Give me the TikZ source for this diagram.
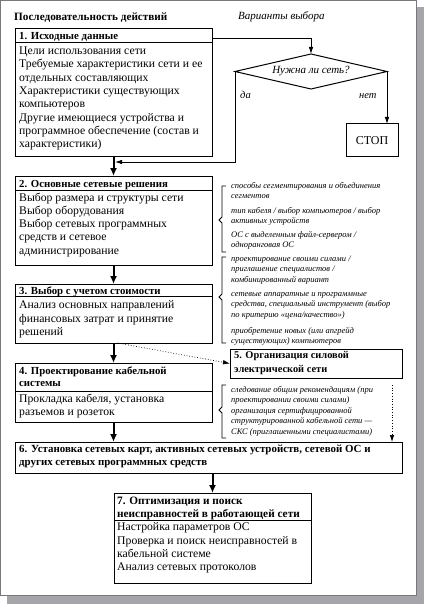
\documentclass[tikz,border=0pt]{standalone}
\usepackage{fontspec}
\setmainfont{Liberation Serif}
\usetikzlibrary{arrows.meta, positioning, shapes.geometric}

\definecolor{shadowgray}{RGB}{166,166,170}
\definecolor{edgegray}{RGB}{120,120,124}

\tikzset{
    frame/.style={draw, line width=1pt, inner sep=0pt, outer sep=0pt, anchor=north west},
    textblock/.style={align=left, anchor=north west, inner sep=0pt, execute at begin node=\strut},
    headtext/.style={textblock, font=\fontsize{10.8}{12.5}\selectfont\bfseries},
    bodytext/.style={textblock, font=\fontsize{11.7}{13.3}\selectfont},
    note/.style={textblock, font=\fontsize{8.5}{10.3}\selectfont\itshape},
    flow/.style={line width=2pt, -{Latex[length=8pt,width=7pt]}},
    link/.style={line width=0.8pt, -{Latex[length=7pt,width=4.5pt]}},
    option/.style={line width=0.7pt, dotted, -{Latex[length=7pt,width=4.5pt]}},
    divider/.style={line width=0.8pt}
}

\begin{document}
\begin{tikzpicture}[x=1pt, y=-1pt]
    \useasboundingbox (0,0) rectangle (424,604);
    % page with its shadow
    \fill[shadowgray] (7,7) rectangle (424,604);
    \filldraw[fill=white, draw=edgegray, line width=0.8pt] (0,0) rectangle (416,595);

    % column titles
    \node[headtext, font=\fontsize{11.2}{12.5}\selectfont\bfseries] (title) at (14,11.25) {Последовательность действий};
    \node[anchor=base west, inner sep=0pt, font=\fontsize{11}{13}\selectfont\itshape] (choices) at (238,20) {Варианты выбора};

    % 1
    \node[frame, minimum width=197pt, minimum height=128pt] (b1) at (15,29) {};
    \node[headtext] (h1) at (19,30.25) {1. Исходные данные};
    \draw[divider] (15,42) -- (212,42);
    \node[bodytext] (t1) at (19,46.7) {Цели использования сети\\
        Требуемые характеристики сети и ее\\
        отдельных составляющих\\
        Характеристики существующих\\
        компьютеров\\
        Другие имеющиеся устройства и\\
        программное обеспечение (состав и\\
        характеристики)};

    % decision
    \node[draw, line width=1pt, diamond, inner sep=0pt, outer sep=0pt, shape aspect=4.3,
        minimum width=152pt, minimum height=35pt,
        font=\fontsize{11}{13}\selectfont\itshape] (need) at (311,71.5) {Нужна ли сеть?};
    \node[frame, anchor=center, minimum width=52pt, minimum height=33pt,
        font=\fontsize{12}{14}\selectfont] (stop) at (372,140.5) {СТОП};
    \node[anchor=base west, inner sep=0pt, font=\fontsize{10.5}{12}\selectfont\itshape] (yes) at (240,99) {да};
    \node[anchor=base west, inner sep=0pt, font=\fontsize{10.5}{12}\selectfont\itshape] (no) at (359,99) {нет};
    \coordinate (join) at (115,162);

    % 2
    \node[frame, minimum width=197pt, minimum height=89pt] (b2) at (15,176) {};
    \node[headtext] (h2) at (19,178.25) {2. Основные сетевые решения};
    \draw[divider] (15,190.7) -- (212,190.7);
    \node[bodytext] (t2) at (19,192.5) {Выбор размера и структуры сети\\
        Выбор оборудования\\
        Выбор сетевых программных\\
        средств и сетевое\\
        администрирование};

    % 3
    \node[frame, minimum width=197pt, minimum height=59pt] (b3) at (15,284) {};
    \node[headtext] (h3) at (19,285.25) {3. Выбор с учетом стоимости};
    \draw[divider] (15,296.7) -- (212,296.7);
    \node[bodytext] (t3) at (19,300.5) {Анализ основных направлений\\
        финансовых затрат и принятие\\
        решений};

    % 4
    \node[frame, minimum width=197pt, minimum height=59pt] (b4) at (15,363) {};
    \node[headtext, font=\fontsize{10.8}{12}\selectfont\bfseries] (h4) at (19,366.6) {4. Проектирование кабельной\\системы};
    \draw[divider] (15,391) -- (212,391);
    \node[bodytext] (t4) at (19,393.5) {Прокладка кабеля, установка\\
        разъемов и розеток};

    % 5
    \node[frame, minimum width=172pt, minimum height=29pt] (b5) at (230,349) {};
    \node[headtext, font=\fontsize{10.4}{14}\selectfont\bfseries] (h5) at (234,351.2) {5. Организация силовой\\электрической сети};

    % 6
    \node[frame, minimum width=387pt, minimum height=31pt] (b6) at (15,442) {};
    \node[headtext, font=\fontsize{10.9}{13}\selectfont\bfseries] (h6) at (19,444.9) {6. Установка сетевых карт, активных сетевых устройств, сетевой ОС и\\
        других сетевых программных средств};

    % 7
    \node[frame, minimum width=197pt, minimum height=90pt] (b7) at (114,493) {};
    \node[headtext, font=\fontsize{11.3}{13}\selectfont\bfseries] (h7) at (117,496.9) {7. Оптимизация и поиск\\неисправностей в работающей сети};
    \draw[divider] (114,520) -- (311,520);
    \node[bodytext] (t7) at (117,522.5) {Настройка параметров ОС\\
        Проверка и поиск неисправностей в\\
        кабельной системе\\
        Анализ сетевых протоколов};

    % options to the right
    \draw[divider] (226,186) -- (222,186) -- (222,217) -- (219,220) -- (222,223) -- (222,252) -- (226,252);
    \node[note] (n1) at (231,182.3) {способы сегментирования и объединения\\сегментов};
    \node[note] (n2) at (231,207.3) {тип кабеля / выбор компьютеров / выбор\\активных устройств};
    \node[note] (n3) at (231,230.8) {ОС с выделенным файл-сервером /\\одноранговая ОС};

    \draw[divider] (226,257) -- (222,257) -- (222,294) -- (219,297) -- (222,300) -- (222,343) -- (226,343);
    \node[note] (n4) at (231,255.8) {проектирование своими силами /\\приглашение специалистов /\\комбинированный вариант};
    \node[note] (n5) at (231,292.3) {сетевые аппаратные и программные\\средства, специальный инструмент (выбор\\по критерию «цена/качество»)};
    \node[note] (n6) at (231,327.3) {приобретение новых (или апгрейд\\существующих) компьютеров};

    \draw[divider] (226,385) -- (222,385) -- (222,407) -- (219,410) -- (222,413) -- (222,438) -- (226,438);
    \node[note] (n7) at (231,385.8) {следование общим рекомендациям (при\\проектировании своими силами)};
    \node[note] (n8) at (231,407.3) {организация сертифицированной\\структурированной кабельной сети —\\СКС (приглашенными специалистами)};

    % connectors
    \draw[link] ([yshift=-9pt]b1.north east) -| (need.north);
    \draw[link] (need.west) |- (join);
    \draw[link] (need.east) -- (need.east |- stop.north);
    \draw[flow] (b1.south) -- (b2.north);
    \draw[flow] (b2.south) -- (b3.north);
    \draw[flow] (b3.south) -- (b4.north);
    \draw[flow] (b4.south) -- (b4.south |- b6.north);
    \draw[flow] (b6.south -| b7.north) -- (b7.north);
    \draw[option] ([xshift=4pt]b3.south) -- (b5.west);
    \draw[option] ([xshift=-10pt,yshift=-7pt]b5.south east) -- ([xshift=-10pt]b6.north east);
\end{tikzpicture}
\end{document}
